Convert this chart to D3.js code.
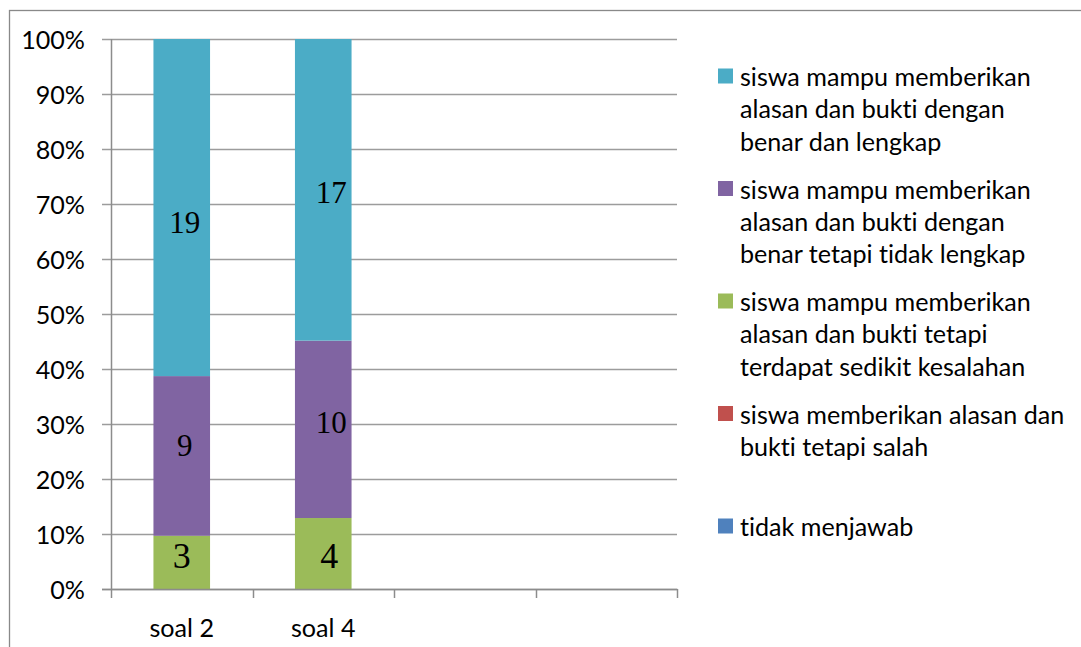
<!DOCTYPE html>
<html>
<head>
<meta charset="utf-8">
<script src="https://cdn.jsdelivr.net/npm/d3@7"></script>
<style>
  html, body { margin: 0; padding: 0; background: #fff; }
  svg { display: block; }
  text { font-variant-ligatures: none; font-feature-settings: "liga" 0, "clig" 0; }
</style>
</head>
<body>
<svg id="chart" width="1081" height="647"></svg>
<script>
// ---- data ----
const categories = ["soal 2", "soal 4", "", ""];
const seriesNames = [
  "tidak menjawab",
  "siswa memberikan alasan dan bukti tetapi salah",
  "siswa mampu memberikan alasan dan bukti tetapi terdapat sedikit kesalahan",
  "siswa mampu memberikan alasan dan bukti dengan benar tetapi tidak lengkap",
  "siswa mampu memberikan alasan dan bukti dengan benar dan lengkap"
];
const tidakMenjawab   = [0, 0, 0, 0];
const salah           = [0, 0, 0, 0];
const sedikitSalah    = [3, 4, 0, 0];
const tidakLengkap    = [9, 10, 0, 0];
const lengkap         = [19, 17, 0, 0];
const yTicks = [0, 0.1, 0.2, 0.3, 0.4, 0.5, 0.6, 0.7, 0.8, 0.9, 1.0];

// legend lines (wrapped as in the reference)
const legendLines = [
  ["siswa mampu memberikan", "alasan dan bukti dengan", "benar dan lengkap"],
  ["siswa mampu memberikan", "alasan dan bukti dengan", "benar tetapi tidak lengkap"],
  ["siswa mampu memberikan", "alasan dan bukti tetapi", "terdapat sedikit kesalahan"],
  ["siswa memberikan alasan dan", "bukti tetapi salah"],
  ["tidak menjawab"]
];

// ---- styles ----
const colors = ["#4F81BD", "#C0504D", "#9BBB59", "#8064A2", "#4BACC6"];
const uiFont = "Lato, 'Open Sans', sans-serif";
const labelFont = "'Liberation Serif', 'Times New Roman', serif";
// manual nudges of the value labels (px), per series index / category
const labelNudge = {
  2: [[0, -6], [6, 2]],
  3: [[3, -10], [8, -7]],
  4: [[3, 15], [8, 3]]
};
const labelSize = {2: 36, 3: 31, 4: 31};

const svg = d3.select("#chart");

// fit the UI font so "siswa mampu memberikan" spans ~291px (Calibri look)
const probe = svg.append("text").attr("font-family", uiFont).attr("font-size", 100)
  .text("siswa mampu memberikan");
const w100 = probe.node().getComputedTextLength();
probe.remove();
const uiSize = 100 * 291 / w100;

// ---- outer border ----
svg.append("rect").attr("x", 9.5).attr("y", 10.5).attr("width", 1200).attr("height", 800)
  .attr("fill", "none").attr("stroke", "#898989").attr("stroke-width", 1.3);

// ---- scales ----
const x = d3.scaleBand().domain(d3.range(categories.length)).range([111, 677])
  .paddingInner(0.6).paddingOuter(0.3);
const y = d3.scaleLinear().domain([0, 1]).range([589, 39]);

// ---- gridlines (extend left as ticks) ----
svg.append("g").selectAll("line").data(yTicks).join("line")
  .attr("x1", 102).attr("x2", 677)
  .attr("y1", d => Math.round(y(d)) + 0.5).attr("y2", d => Math.round(y(d)) + 0.5)
  .attr("stroke", "#9c9c9c").attr("stroke-width", 1.5);

// y tick labels
svg.append("g").selectAll("text").data(yTicks).join("text")
  .attr("x", 85).attr("y", d => y(d))
  .attr("text-anchor", "end").attr("dominant-baseline", "central")
  .attr("font-family", uiFont).attr("font-size", uiSize).attr("fill", "#000")
  .text(d3.format(".0%"));

// ---- stacked bars ----
const table = categories.map((c, i) => ({
  i, s0: tidakMenjawab[i], s1: salah[i], s2: sedikitSalah[i], s3: tidakLengkap[i], s4: lengkap[i]
}));
const stack = d3.stack().keys(["s0", "s1", "s2", "s3", "s4"]).offset(d3.stackOffsetExpand);
const stacked = stack(table);

const gBars = svg.append("g");
stacked.forEach((ser, si) => {
  gBars.append("g").attr("fill", colors[si]).selectAll("rect")
    .data(ser.filter(d => d[1] - d[0] > 0 && isFinite(d[1])))
    .join("rect")
    .attr("x", d => x(d.data.i))
    .attr("width", x.bandwidth())
    .attr("y", d => y(d[1]))
    .attr("height", d => y(d[0]) - y(d[1]));
});

// value labels
stacked.forEach((ser, si) => {
  ser.forEach((d, ci) => {
    const v = d.data["s" + si];
    if (!v) return;
    const nudge = (labelNudge[si] && labelNudge[si][ci]) || [0, 0];
    svg.append("text")
      .attr("x", x(ci) + x.bandwidth() / 2 + nudge[0])
      .attr("y", (y(d[0]) + y(d[1])) / 2 + nudge[1])
      .attr("text-anchor", "middle").attr("dominant-baseline", "central")
      .attr("font-family", labelFont).attr("font-size", labelSize[si] || 31)
      .attr("fill", "#000").text(v);
  });
});

// ---- axes lines ----
const axisColor = "#8c8c8c";
svg.append("line").attr("x1", 111.5).attr("x2", 111.5).attr("y1", 39).attr("y2", 590)
  .attr("stroke", axisColor).attr("stroke-width", 1.5);
svg.append("line").attr("x1", 102).attr("x2", 677.5).attr("y1", 589.5).attr("y2", 589.5)
  .attr("stroke", axisColor).attr("stroke-width", 1.5);
// x ticks at band boundaries
const xTickPos = d3.range(categories.length + 1).map(i => x.range()[0] + i * x.step());
svg.append("g").selectAll("line").data(xTickPos).join("line")
  .attr("x1", d => Math.round(d) + 0.5).attr("x2", d => Math.round(d) + 0.5)
  .attr("y1", 589).attr("y2", 598)
  .attr("stroke", axisColor).attr("stroke-width", 1.5);
// x category labels
svg.append("g").selectAll("text").data(categories).join("text")
  .attr("x", (d, i) => x(i) + x.bandwidth() / 2).attr("y", 627)
  .attr("text-anchor", "middle").attr("dominant-baseline", "central")
  .attr("font-family", uiFont).attr("font-size", uiSize).attr("fill", "#000")
  .text(d => d);

// ---- legend (top to bottom = reversed series order) ----
const legendOrder = [4, 3, 2, 1, 0];
const lg = svg.append("g");
legendOrder.forEach((si, k) => {
  const top = 76 + k * 112.5;
  lg.append("rect").attr("x", 718).attr("y", top - 7.5).attr("width", 15).attr("height", 15)
    .attr("fill", colors[si]);
  legendLines[k].forEach((line, li) => {
    lg.append("text").attr("x", 740).attr("y", top + li * 32.3)
      .attr("dominant-baseline", "central")
      .attr("font-family", uiFont).attr("font-size", uiSize).attr("fill", "#000")
      .text(line);
  });
});
</script>
</body>
</html>
